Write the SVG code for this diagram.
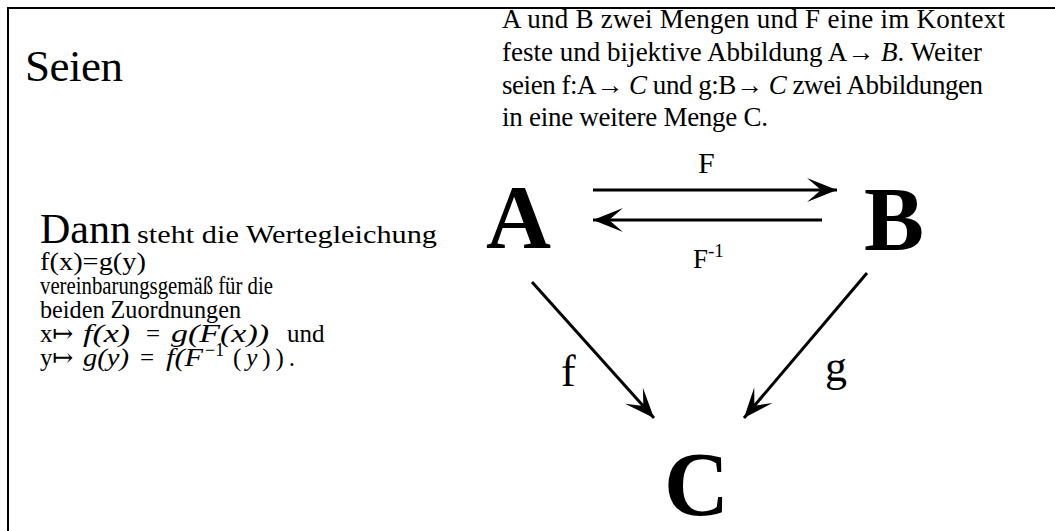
<svg xmlns="http://www.w3.org/2000/svg" width="1055" height="531" viewBox="0 0 1055 531">
<style>
  text { font-family: "Liberation Serif", "DejaVu Serif", serif; fill: #000; }
  .body { font-size: 25px; }
  .top { font-size: 27px; }
  .node { font-size: 90px; font-weight: bold; }
  .lbl { font-size: 30px; }
  .it { font-style: italic; }
  .edge { stroke: #000; stroke-width: 3; fill: none; }
</style>
<defs>
  <marker id="arr" markerUnits="userSpaceOnUse" markerWidth="40" markerHeight="30" viewBox="-32 -15 34 30" refX="0" refY="0" orient="auto">
    <path d="M0,0 L-30,-12 L-16,0 L-30,12 Z" fill="#000"/>
  </marker>
</defs>
<rect x="0" y="0" width="1055" height="531" fill="#fff"/>
<rect x="8" y="8" width="1100" height="600" fill="none" stroke="#000" stroke-width="2"/>

<g id="text-seien">
  <text x="25" y="81" style="font-size:45px" textLength="98">Seien</text>
</g>
<g id="text-prem">
  <text class="top" x="502" y="28" textLength="503">A und B zwei Mengen und F eine im Kontext</text>
  <text class="top" x="502" y="61" textLength="480">feste und bijektive Abbildung A→ <tspan class="it">B</tspan>. Weiter</text>
  <text class="top" x="502" y="94" textLength="481">seien f:A→ <tspan class="it">C</tspan> und g:B→ <tspan class="it">C</tspan> zwei Abbildungen</text>
  <text class="top" x="502" y="126" textLength="266">in eine weitere Menge C.</text>
</g>
<g id="text-dann">
  <text class="body" x="40" y="243"><tspan style="font-size:42px">Dann</tspan><tspan x="137" textLength="300" lengthAdjust="spacingAndGlyphs">steht die Wertegleichung</tspan></text>
  <text class="body" x="40" y="270" textLength="106" lengthAdjust="spacingAndGlyphs">f(x)=g(y)</text>
  <text class="body" x="40" y="294" textLength="233" lengthAdjust="spacingAndGlyphs">vereinbarungsgemäß für die</text>
  <text class="body" x="40" y="318" textLength="201" lengthAdjust="spacingAndGlyphs">beiden Zuordnungen</text>
  <text class="body" y="342"><tspan x="40">x↦</tspan><tspan class="it" x="83" textLength="47" lengthAdjust="spacingAndGlyphs">f(x)</tspan><tspan x="146">=</tspan><tspan class="it" x="171" textLength="98" lengthAdjust="spacingAndGlyphs">g(F(x))</tspan><tspan x="287">und</tspan></text>
  <text class="body" y="366"><tspan x="40">y↦</tspan><tspan class="it" x="83" textLength="46" lengthAdjust="spacingAndGlyphs">g(y)</tspan><tspan x="140">=</tspan><tspan class="it" x="166" textLength="37" lengthAdjust="spacingAndGlyphs">f(F</tspan><tspan x="205" dy="-10" style="font-size:18px">−1</tspan><tspan x="233" dy="10" textLength="62">(<tspan class="it">y</tspan>)).</tspan></text>
</g>

<g id="node-A"><text class="node" x="486" y="248">A</text></g>
<g id="node-B"><text class="node" x="864" y="250">B</text></g>
<g id="node-C"><text class="node" x="664" y="515">C</text></g>

<g id="connectors">
  <line class="edge" x1="593" y1="190" x2="837" y2="190" marker-end="url(#arr)"/>
  <line class="edge" x1="822" y1="220" x2="593" y2="220" marker-end="url(#arr)"/>
  <line class="edge" x1="532" y1="282" x2="654" y2="418" marker-end="url(#arr)"/>
  <line class="edge" x1="867" y1="273" x2="744" y2="418" marker-end="url(#arr)"/>
  <text class="lbl" x="698" y="173">F</text>
  <text x="693" y="268" style="font-size:27px">F<tspan dy="-11" style="font-size:19px">-1</tspan></text>
  <text x="561" y="386" style="font-size:44px">f</text>
  <text x="825" y="381" style="font-size:44px">g</text>
</g>
</svg>
